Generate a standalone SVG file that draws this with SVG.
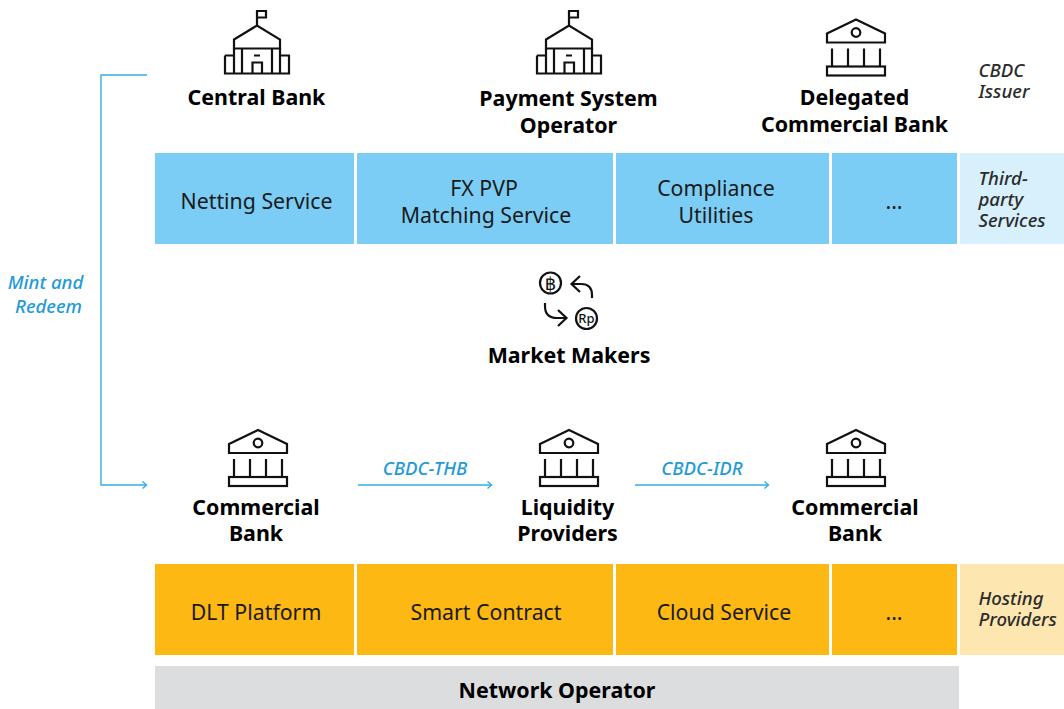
<svg xmlns="http://www.w3.org/2000/svg" xmlns:xlink="http://www.w3.org/1999/xlink" width="1064" height="709" viewBox="0 0 1064 709">
<style>
text{font-family:"Noto Sans","Open Sans","Liberation Sans",sans-serif;fill:#1a1a1a}
.n{font-size:21.4px;font-weight:700;fill:#000;text-anchor:middle}
.s{font-size:21.3px;text-anchor:middle}
.i{font-size:18.6px;font-style:italic;font-weight:500;fill:#2b2b2b}
.l{font-size:18.6px;font-style:italic;font-weight:500;fill:#1f9bd7}
.ic{fill:none;stroke:#111;stroke-width:2.2;stroke-linejoin:miter}
.c{fill:none;stroke:#35aee2;stroke-width:1.4}
.blue{fill:#7bcdf5}.org{fill:#fdb813}
</style>
<defs>
<marker id="ah" markerWidth="10" markerHeight="10" refX="7" refY="4" orient="auto" markerUnits="userSpaceOnUse"><path d="M3 0.5L7 4L3 7.500" fill="none" stroke="#35aee2" stroke-width="1.4"/></marker>
<g id="bank" class="ic"><path d="M-29 14L0 0L29 14V23H-29Z"/><circle cx="0" cy="13" r="4.300"/><path d="M-24 29V47M-8 29V47M8 29V47M24 29V47"/><rect x="-29" y="47" width="58" height="9"/></g>
<g id="hq" class="ic"><path d="M0 24V9.500H9V16H0"/><path d="M-23 38L0 24L23 38V47H-23Z"/><path d="M-23 47V72H23V47M-15 47V72M15 47V72M-32 54H-23M23 54H32V72H23M-32 54V72H-23"/><path d="M-4.500 72V61H5V72M-3 54H3"/></g>
</defs>

<g id="connectors">
<path class="c" d="M147 75H101V485H146.500" marker-end="url(#ah)"/>
<path class="c" d="M358 485H491.500" marker-end="url(#ah)"/>
<path class="c" d="M635 485H768.500" marker-end="url(#ah)"/>
<text class="l" x="45.500" y="289" text-anchor="middle">Mint and</text>
<text class="l" x="48.500" y="313" text-anchor="middle">Redeem</text>
<text class="l" x="425" y="475" text-anchor="middle">CBDC-THB</text>
<text class="l" x="702" y="475" text-anchor="middle">CBDC-IDR</text>
</g>

<g id="central-bank"><use xlink:href="#hq" x="257" y="1.500"/><text class="n" x="256.500" y="105">Central Bank</text></g>
<g id="payment-system-operator"><use xlink:href="#hq" x="569" y="1.500"/><text class="n" x="568.500" y="106">Payment System</text><text class="n" x="568.500" y="133">Operator</text></g>
<g id="delegated-commercial-bank"><use xlink:href="#bank" x="856" y="19.500"/><text class="n" x="854.500" y="105">Delegated</text><text class="n" x="854.500" y="132">Commercial Bank</text></g>
<g id="cbdc-issuer"><text class="i" x="978.500" y="77">CBDC</text><text class="i" x="978.500" y="98">Issuer</text></g>

<g id="third-party-services">
<rect class="blue" x="155" y="153" width="199" height="91"/>
<rect class="blue" x="357" y="153" width="256" height="91"/>
<rect class="blue" x="616" y="153" width="213" height="91"/>
<rect class="blue" x="832" y="153" width="125" height="91"/>
<rect x="960" y="153" width="104" height="91" fill="#d8f0fc"/>
<text class="s" x="256.500" y="209">Netting Service</text>
<text class="s" x="484" y="196">FX PVP</text><text class="s" x="486" y="223">Matching Service</text>
<text class="s" x="716" y="196">Compliance</text><text class="s" x="716" y="223">Utilities</text>
<text class="s" x="894" y="209">...</text>
<text class="i" x="978.500" y="185">Third-</text><text class="i" x="978.500" y="206">party</text><text class="i" x="978.500" y="227">Services</text>
</g>

<g id="market-makers">
<g class="ic"><circle cx="550.500" cy="283" r="10.500"/><circle cx="586.500" cy="318.500" r="10.500"/>
<path d="M592 298V295Q592 284 581 284H572M580 276L571.500 284L580 292"/>
<path d="M545 303V306Q545 318 557 318H566M558 310L566.500 318L558 326"/></g>
<text x="550.500" y="289.500" text-anchor="middle" style="font-family:'DejaVu Sans',sans-serif;font-size:18px;fill:#111">฿</text>
<text x="586.500" y="323" text-anchor="middle" style="font-size:13px;font-weight:500;fill:#111">Rp</text>
<text class="n" x="569" y="363">Market Makers</text>
</g>

<g id="commercial-bank-left"><use xlink:href="#bank" x="258" y="430"/><text class="n" x="256" y="515">Commercial</text><text class="n" x="256" y="541">Bank</text></g>
<g id="liquidity-providers"><use xlink:href="#bank" x="569" y="430"/><text class="n" x="567.500" y="515">Liquidity</text><text class="n" x="567.500" y="541">Providers</text></g>
<g id="commercial-bank-right"><use xlink:href="#bank" x="856" y="430"/><text class="n" x="855" y="515">Commercial</text><text class="n" x="855" y="541">Bank</text></g>

<g id="hosting-providers">
<rect class="org" x="155" y="564" width="199" height="91"/>
<rect class="org" x="357" y="564" width="256" height="91"/>
<rect class="org" x="616" y="564" width="213" height="91"/>
<rect class="org" x="832" y="564" width="125" height="91"/>
<rect x="960" y="564" width="104" height="91" fill="#fde6b0"/>
<text class="s" x="256" y="620">DLT Platform</text>
<text class="s" x="486" y="620">Smart Contract</text>
<text class="s" x="724" y="620">Cloud Service</text>
<text class="s" x="894" y="620">...</text>
<text class="i" x="978.500" y="605">Hosting</text><text class="i" x="978.500" y="626">Providers</text>
</g>

<g id="network-operator"><rect x="155" y="666" width="804" height="43" fill="#dcddde"/><text class="n" x="557" y="698">Network Operator</text></g>
</svg>
